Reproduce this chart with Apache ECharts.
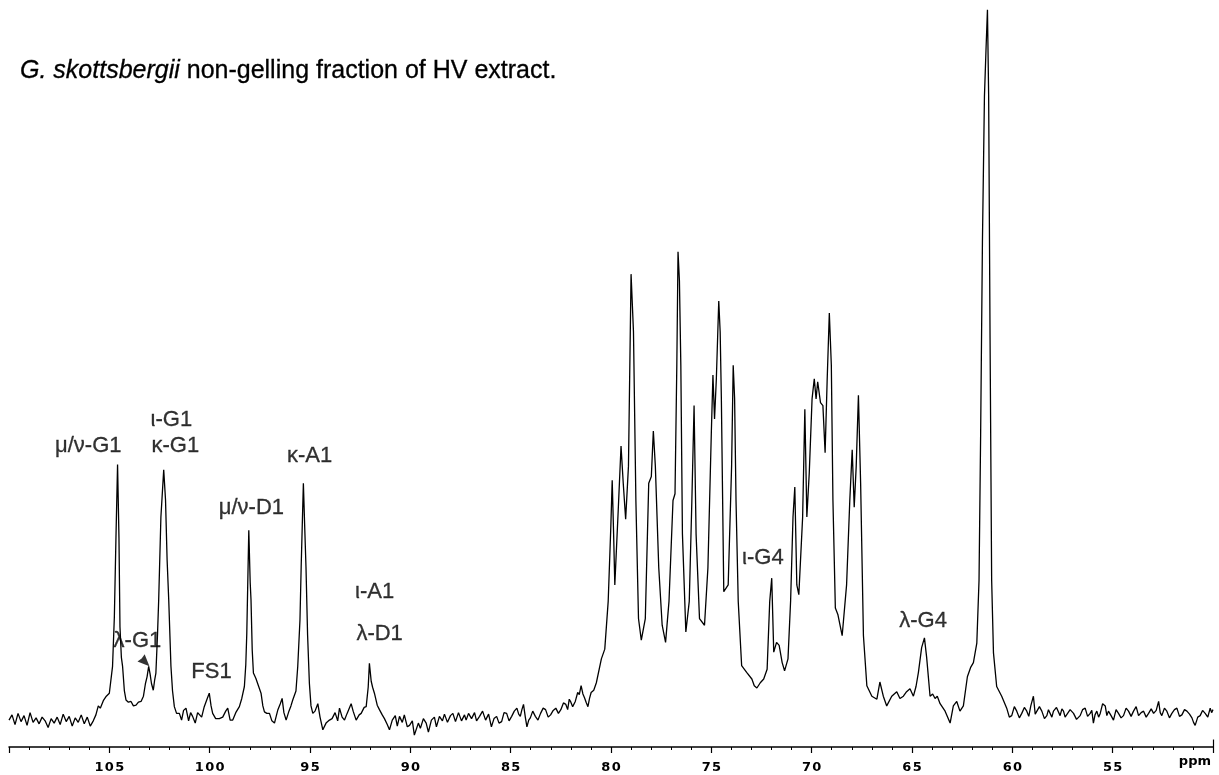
<!DOCTYPE html>
<html>
<head>
<meta charset="utf-8" />
<title>G. skottsbergii non-gelling fraction</title>
<style>
html, body { margin: 0; padding: 0; background: #fff; }
#main { width: 1219px; height: 775px; }
</style>
</head>
<body>
<div id="main"></div>
<script src="https://cdn.jsdelivr.net/npm/echarts@6/dist/echarts.min.js"></script>
<script>
// chemical shift (ppm) and intensity (arbitrary units, tallest peak ~ 99)
var ppm = [
  110.0, 109.85, 109.7, 109.55, 109.4, 109.25, 109.1, 108.95, 108.8, 108.65, 108.5, 108.35, 108.2, 108.05,
  107.9, 107.75, 107.6, 107.45, 107.3, 107.15, 107.0, 106.85, 106.7, 106.55, 106.4, 106.25, 106.1, 105.95,
  105.8, 105.67, 105.55, 105.45, 105.3, 105.15, 105.0, 104.84, 104.75, 104.67, 104.59, 104.52, 104.47, 104.4,
  104.34, 104.25, 104.17, 104.05, 103.92, 103.8, 103.67, 103.55, 103.42, 103.3, 103.2, 103.12, 103.04, 102.97,
  102.9, 102.81, 102.74, 102.68, 102.6, 102.54, 102.43, 102.29, 102.2, 102.12, 102.04, 101.93, 101.85, 101.76,
  101.65, 101.51, 101.4, 101.3, 101.18, 101.05, 100.95, 100.85, 100.72, 100.6, 100.52, 100.4, 100.27, 100.12,
  100.02, 99.93, 99.85, 99.7, 99.52, 99.35, 99.2, 99.1, 98.98, 98.85, 98.7, 98.52, 98.4, 98.27, 98.2, 98.15,
  98.05, 97.98, 97.94, 97.88, 97.82, 97.7, 97.61, 97.44, 97.35, 97.27, 97.15, 97.02, 96.9, 96.77, 96.6, 96.48,
  96.39, 96.3, 96.19, 96.05, 95.95, 95.86, 95.7, 95.61, 95.5, 95.44, 95.33, 95.27, 95.2, 95.12, 95.03, 94.95,
  94.86, 94.75, 94.61, 94.5, 94.36, 94.2, 94.03, 93.9, 93.75, 93.62, 93.53, 93.4, 93.28, 93.15, 92.95, 92.85,
  92.7, 92.55, 92.45, 92.3, 92.2, 92.1, 92.04, 91.95, 91.88, 91.79, 91.65, 91.54, 91.4, 91.29, 91.15, 91.04,
  90.9, 90.75, 90.65, 90.54, 90.4, 90.3, 90.15, 90.04, 89.9, 89.8, 89.71, 89.6, 89.5, 89.35, 89.21, 89.1,
  88.95, 88.8, 88.7, 88.55, 88.4, 88.3, 88.15, 88.0, 87.88, 87.75, 87.6, 87.45, 87.3, 87.22, 87.1, 86.95,
  86.8, 86.7, 86.55, 86.4, 86.25, 86.1,
  85.96, 85.83, 85.7, 85.58, 85.45, 85.33, 85.2, 85.08, 84.95, 84.82, 84.69, 84.6, 84.52, 84.44, 84.36, 84.27,
  84.19, 84.1, 84.02, 83.9, 83.77, 83.64, 83.51, 83.38, 83.26, 83.13, 83.01, 82.88, 82.75, 82.62, 82.5, 82.37,
  82.25, 82.16, 82.08, 82.0, 81.91, 81.78, 81.66, 81.58, 81.49, 81.4, 81.32, 81.24, 81.15, 81.07, 80.99, 80.86,
  80.73, 80.48, 80.31, 80.14, 80.01, 79.94, 79.87, 79.81,
  79.64, 79.5, 79.39, 79.27, 79.13, 79.0, 78.88, 78.76, 78.63, 78.49, 78.29, 78.12, 77.99, 77.89, 77.79, 77.62,
  77.45, 77.28, 77.11, 76.91, 76.81, 76.72, 76.66, 76.59, 76.52, 76.44, 76.27, 76.1, 75.97, 75.86, 75.76, 75.59,
  75.34, 75.17, 75.0, 74.92, 74.84, 74.75, 74.63, 74.56, 74.5, 74.38, 74.16, 73.99, 73.91, 73.84, 73.77, 73.66,
  73.49, 73.24, 72.98, 72.86, 72.73, 72.56, 72.39, 72.22, 72.09, 71.99, 71.89, 71.75, 71.62, 71.47, 71.35, 71.18,
  71.05, 70.93, 70.84, 70.74, 70.64, 70.45, 70.34, 70.24, 70.12, 69.98, 69.87, 69.78, 69.7, 69.56, 69.44, 69.33,
  69.23, 69.12, 69.02, 68.94, 68.82, 68.69, 68.48, 68.26, 68.1, 67.98, 67.88, 67.78, 67.67, 67.56, 67.42, 67.25,
  67.0, 66.75,
  66.6, 66.43, 66.26, 66.01, 65.76, 65.6, 65.43, 65.27, 65.1, 64.93, 64.8, 64.68, 64.52, 64.38, 64.27, 64.1,
  63.97, 63.85, 63.74, 63.6, 63.35, 63.1, 62.94, 62.77, 62.61, 62.44, 62.24, 62.07, 61.94, 61.77, 61.66, 61.58,
  61.49, 61.39, 61.31, 61.24, 61.18, 61.11, 61.03, 60.94, 60.78, 60.53,
  60.28, 60.15, 60.03, 59.9, 59.78, 59.65, 59.53, 59.4, 59.28, 59.18, 59.08, 58.95, 58.86, 58.78, 58.65, 58.53,
  58.4, 58.28, 58.2, 58.12, 58.03, 57.95, 57.8, 57.62, 57.53, 57.45, 57.37, 57.29, 57.12, 56.95, 56.8, 56.62,
  56.5, 56.37, 56.25, 56.12, 56.04, 55.96, 55.88, 55.79, 55.7, 55.62, 55.5, 55.37, 55.29, 55.21, 55.08, 54.96,
  54.83, 54.71, 54.58, 54.46, 54.33, 54.21, 54.08, 53.96, 53.83, 53.71, 53.58, 53.46, 53.33, 53.21, 53.08, 52.96,
  52.83, 52.71, 52.63, 52.55, 52.42, 52.3, 52.17, 52.05, 51.92, 51.8, 51.67, 51.55, 51.42, 51.3, 51.17, 51.05,
  50.97, 50.89, 50.76, 50.64, 50.52, 50.39, 50.26, 50.14, 50.07, 50.0
];
var intensity = [
  3.6, 4.3, 3.0, 4.5, 3.4, 4.2, 2.9, 4.6, 3.3, 3.9, 3.1, 4.0, 3.5, 2.6,
  3.8, 3.2, 4.0, 3.0, 4.4, 3.4, 4.1, 2.8, 3.9, 3.3, 4.3, 3.1, 4.0, 2.8,
  3.5, 4.3, 5.5, 5.2, 6.2, 6.8, 7.2, 10.8, 17.4, 28.0, 37.8, 28.0, 16.1, 12.0,
  10.8, 7.5, 6.3, 6.0, 6.1, 5.5, 5.6, 6.0, 6.1, 6.8, 8.5, 9.4, 10.8, 9.8,
  8.5, 7.6, 9.0, 9.9, 15.0, 19.7, 30.8, 37.1, 33.1, 25.0, 19.7, 10.8, 7.5, 5.4,
  4.5, 4.5, 3.6, 4.9, 5.2, 3.5, 4.6, 4.1, 3.2, 4.6, 4.5, 4.0, 5.4, 6.5,
  7.2, 5.5, 4.5, 3.8, 3.8, 4.0, 4.8, 5.2, 3.6, 3.6, 4.6, 5.4, 6.5, 8.1, 11.0, 15.2,
  29.0, 22.0, 19.7, 13.0, 9.9, 9.2, 9.0, 7.2, 5.5, 4.7, 4.5, 4.5, 3.5, 3.2, 5.0, 5.8,
  6.5, 4.6, 3.6, 4.8, 5.5, 6.3, 7.5, 10.8, 17.0, 24.1, 35.3, 30.0, 24.1, 15.0, 8.5, 5.5,
  4.5, 4.8, 5.8, 4.0, 2.3, 3.2, 3.6, 3.8, 4.6, 3.5, 5.2, 4.0, 3.6, 4.5, 5.8, 4.8,
  3.6, 4.3, 4.5, 5.3, 5.4, 8.0, 11.2, 8.8, 8.0, 7.2, 5.6, 5.0, 4.3, 3.8, 3.0, 2.3,
  3.6, 4.2, 2.8, 4.1, 3.3, 4.3, 2.7, 2.9, 3.5, 1.6, 1.4, 3.2, 2.5, 3.8, 3.2, 2.0,
  3.6, 4.0, 2.7, 4.1, 3.5, 4.4, 3.3, 4.2, 4.5, 3.4, 4.6, 3.5, 4.3, 3.6, 4.5, 3.8,
  4.6, 3.5, 4.1, 4.8, 3.6, 4.4,
  2.7, 3.8, 4.1, 3.2, 3.4, 4.6, 4.5, 3.5, 4.1, 4.8, 5.2, 4.4, 4.1, 5.0, 5.7, 4.0,
  2.7, 3.6, 3.9, 4.8, 4.1, 3.6, 4.5, 5.2, 5.0, 4.0, 4.3, 4.9, 5.2, 4.5, 5.0, 5.9,
  5.7, 5.0, 6.4, 6.0, 5.4, 6.1, 7.3, 7.0, 8.2, 7.1, 6.6, 6.0, 5.4, 6.5, 7.3, 7.6,
  8.6, 11.8, 13.1, 19.5, 29.4, 35.7, 28.5, 21.7,
  31.7, 40.3, 35.3, 30.5, 37.6, 63.3, 55.6, 33.0, 17.2, 14.3, 17.2, 35.3, 36.2, 42.3, 37.6, 24.0,
  16.3, 14.0, 19.5, 33.0, 33.9, 51.1, 66.3, 62.4, 51.1, 28.5, 15.4, 19.5, 33.0, 45.7, 28.5, 17.2,
  16.3, 24.0, 42.1, 49.8, 43.9, 49.3, 59.7, 55.6, 46.6, 20.8, 21.7, 37.6, 51.1, 46.6, 33.0, 19.5,
  10.9, 10.0, 9.1, 8.2, 7.9, 8.6, 9.1, 10.4, 19.5, 22.6, 12.7, 14.0, 13.6, 11.3, 10.2, 11.8,
  19.5, 30.8, 34.8, 21.7, 20.4, 30.8, 45.2, 30.8, 36.7, 46.6, 49.3, 46.6, 48.9, 46.1, 45.7, 39.4,
  48.9, 58.1, 51.1, 33.0, 18.6, 17.7, 14.9, 21.7, 33.0, 39.8, 32.1, 37.6, 47.1, 35.3, 14.9, 8.2,
  6.8, 6.4,
  8.7, 6.8, 5.5, 6.8, 7.4, 6.5, 6.8, 7.4, 7.8, 6.8, 8.1, 10.0, 13.3, 14.6, 12.0, 6.8,
  7.1, 6.5, 6.8, 5.8, 4.8, 3.2, 5.5, 6.1, 4.8, 5.5, 9.4, 10.7, 11.3, 13.9, 22.3, 41.7,
  67.6, 87.1, 93.5, 98.7, 87.1, 54.7, 22.3, 12.6, 8.1, 6.8,
  5.2, 4.0, 4.2, 5.4, 4.8, 3.9, 4.5, 5.3, 4.8, 4.1, 5.5, 6.8, 4.4, 4.5, 5.4, 4.8,
  3.8, 4.2, 5.0, 5.2, 4.0, 4.8, 5.3, 4.2, 5.1, 4.8, 4.0, 3.9, 5.0, 4.5, 3.7, 4.2,
  5.0, 5.2, 4.1, 4.5, 4.9, 3.2, 4.3, 4.8, 4.0, 4.5, 5.8, 5.5, 4.2, 4.8, 4.2, 3.6,
  5.0, 4.5, 3.9, 4.2, 5.2, 4.8, 4.1, 4.8, 5.4, 4.2, 4.6, 4.8, 4.0, 4.5, 5.1, 4.5,
  4.9, 6.1, 4.6, 4.2, 5.2, 4.8, 3.9, 4.5, 5.0, 5.2, 4.1, 4.3, 5.0, 4.8, 4.4, 3.9,
  3.3, 2.9, 4.0, 4.2, 4.9, 4.5, 4.0, 5.2, 4.6, 5.0
];

// peak assignments: text, centre ppm, centre height
var peakNames = ['μ/ν-G1', 'ι-G1', 'κ-G1', 'λ-G1', 'FS1', 'μ/ν-D1', 'κ-A1', 'ι-A1', 'λ-D1', 'ι-G4', 'λ-G4'];
var peakPpm = [106.05, 101.91, 101.71, 103.6, 99.91, 97.92, 95.02, 91.78, 91.53, 72.43, 64.45];
var peakHeight = [40.3, 43.8, 40.3, 14.2, 10.0, 32.0, 39.0, 20.8, 15.1, 25.3, 16.9];

// small arrow from the λ-G1 label down to its peak
var arrowAt = [103.3, 11.6];

var axisMin = 50, axisMax = 110, axisStep = 5;

var spectrum = ppm.map(function (p, i) { return [p, intensity[i]]; });
var labels = peakNames.map(function (n, i) { return { name: n, value: [peakPpm[i], peakHeight[i]] }; });

var myChart = echarts.init(document.getElementById('main'));
var option = {
    backgroundColor: '#fff',
    animation: false,
    title: {
        text: '{i|G. skottsbergii} non-gelling fraction of HV extract.',
        left: 20,
        top: 59,
        padding: 0,
        textStyle: {
            fontFamily: 'Liberation Sans',
            fontSize: 25,
            fontWeight: 'normal',
            color: '#000',
            textBorderColor: '#000',
            textBorderWidth: 0.3,
            rich: {
                i: { fontFamily: 'Liberation Sans', fontSize: 25, fontStyle: 'italic', color: '#000',
                     textBorderColor: '#000', textBorderWidth: 0.3 }
            }
        }
    },
    grid: { left: 9, right: 6, top: 0, bottom: 28 },
    xAxis: {
        type: 'value',
        min: axisMin,
        max: axisMax,
        interval: axisStep,
        inverse: true,
        axisLine: { lineStyle: { color: '#000', width: 1.5 } },
        axisTick: { show: true, length: 6, lineStyle: { color: '#000', width: 1.2 } },
        minorTick: { show: true, splitNumber: 5, length: 3, lineStyle: { color: '#000', width: 1 } },
        splitLine: { show: false },
        axisLabel: {
            margin: 14,
            color: '#000',
            fontFamily: 'DejaVu Sans',
            fontWeight: 'bold',
            fontSize: 13,
            formatter: function (v) {
                if (v === axisMin || v === axisMax) return '';
                return String(v).split('').join('\u200A');
            }
        }
    },
    yAxis: { type: 'value', min: 0, max: 100, show: false },
    series: [
        {
            type: 'line',
            data: spectrum,
            showSymbol: false,
            symbol: 'none',
            sampling: null,
            lineStyle: { color: '#000', width: 1.3 },
            silent: true,
            markLine: {
                silent: true,
                symbol: 'none',
                label: { show: false },
                lineStyle: { color: '#000', type: 'solid', width: 1.2 },
                data: [[{ coord: [axisMin, 0] }, { coord: [axisMin, 1] }]]
            }
        },
        {
            type: 'scatter',
            data: labels,
            symbolSize: 0,
            silent: true,
            label: {
                show: true,
                position: 'inside',
                formatter: '{b}',
                color: '#000',
                fontFamily: 'Liberation Sans',
                fontSize: 22,
                textBorderColor: '#000',
                textBorderWidth: 0.3
            }
        },
        {
            type: 'scatter',
            data: [arrowAt],
            // arrowhead pointing down-right, notch at upper left
            symbol: 'path://M10,10 L0,6 L3.5,3.5 L6,0 Z',
            symbolSize: [12, 12],
            silent: true,
            itemStyle: { color: '#000' }
        }
    ],
    graphic: [
        {
            type: 'text',
            right: 8,
            top: 755,
            style: { text: 'ppm', font: 'bold 13px "DejaVu Sans"', fill: '#000' }
        }
    ]
};
myChart.setOption(option);
</script>
</body>
</html>
